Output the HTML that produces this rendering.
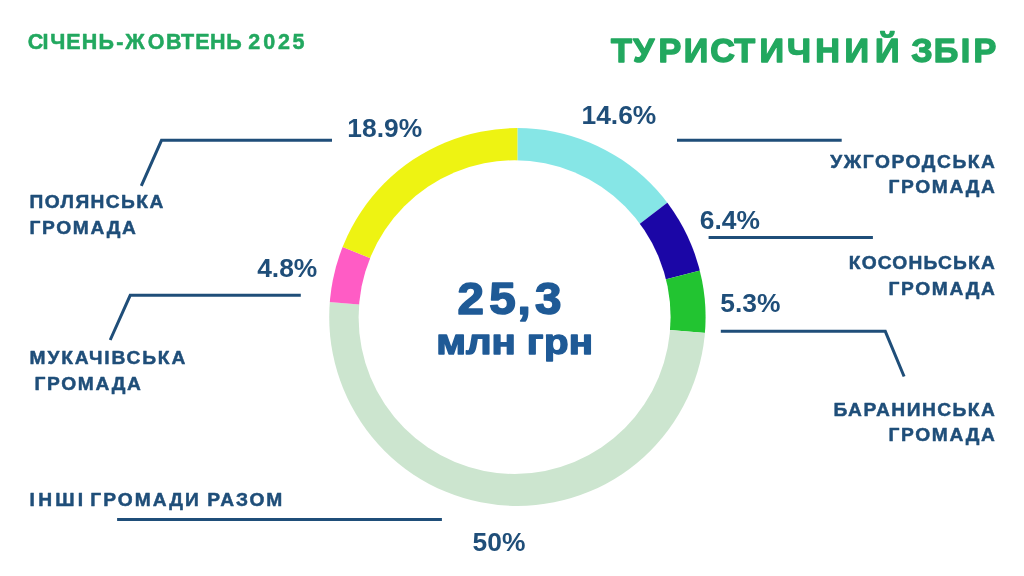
<!DOCTYPE html>
<html lang="uk"><head><meta charset="utf-8"><title>Туристичний збір</title>
<style>
html,body{margin:0;padding:0;background:#fff;}
body{width:1024px;height:576px;overflow:hidden;}
svg{display:block;}
text{font-family:"Liberation Sans",sans-serif;font-weight:700;}
</style></head><body>
<svg width="1024" height="576" viewBox="0 0 1024 576">
<rect width="1024" height="576" fill="#ffffff"/>
<defs><clipPath id="ring"><ellipse cx="517.4" cy="317.0" rx="188.2" ry="189.0"/></clipPath></defs>
<g clip-path="url(#ring)" shape-rendering="geometricPrecision">
<polygon points="517.40,317.50 517.40,57.50 557.00,60.53 595.67,69.56 632.52,84.37 666.68,104.62 697.36,129.84 723.84,159.44" fill="#86e6e6"/>
<polygon points="517.40,317.50 723.84,159.44 743.11,188.44 758.33,219.77 769.23,252.84" fill="#1b06a6"/>
<polygon points="517.40,317.50 769.23,252.84 776.47,295.47 776.53,338.71" fill="#22c431"/>
<polygon points="517.40,317.50 776.53,338.71 769.51,381.08 755.60,421.70 735.20,459.49 708.86,493.40 677.30,522.52 641.37,546.04 602.07,563.33 560.45,573.91 517.66,577.50 474.86,574.00 433.22,563.50 393.88,546.29 357.91,522.83 326.29,493.78 299.88,459.92 279.40,422.18 265.42,381.58 258.31,339.23 258.27,296.29" fill="#cce5cf"/>
<polygon points="517.40,317.50 258.27,296.29 264.39,257.60 276.26,220.27" fill="#ff5cc5"/>
<polygon points="517.40,317.50 276.26,220.27 296.14,180.95 322.37,145.56 354.20,115.10 390.71,90.45 430.87,72.32 473.50,61.23 517.40,57.50" fill="#eef312"/>
<ellipse cx="514.6" cy="317.15" rx="156.0" ry="156.85" fill="#ffffff"/>
</g>
<g>
<polyline points="141.3,185.9 161.5,140.3 332,140.3" fill="none" stroke="#1f4e79" stroke-width="3" stroke-linejoin="miter"/>
<polyline points="677,140.3 841.7,140.3" fill="none" stroke="#1f4e79" stroke-width="3" stroke-linejoin="miter"/>
<polyline points="708.6,237.5 872.9,237.5" fill="none" stroke="#1f4e79" stroke-width="3" stroke-linejoin="miter"/>
<polyline points="720.8,331.3 885.3,331.3 904.1,376.5" fill="none" stroke="#1f4e79" stroke-width="3" stroke-linejoin="miter"/>
<polyline points="300.8,295.3 130.2,295.3 110.2,340.0" fill="none" stroke="#1f4e79" stroke-width="3" stroke-linejoin="miter"/>
<polyline points="117.1,519.6 441.9,519.6" fill="none" stroke="#1f4e79" stroke-width="3" stroke-linejoin="miter"/>
</g>
<g>
<text transform="translate(0,137.20)" font-size="26.4" fill="#1f4e79"><tspan x="347.32" style="letter-spacing:0.000px">18.9%</tspan></text>
<text transform="translate(0,124.10)" font-size="26.4" fill="#1f4e79"><tspan x="581.48" style="letter-spacing:0.000px">14.6%</tspan></text>
<text transform="translate(0,228.50)" font-size="26.4" fill="#1f4e79"><tspan x="699.81" style="letter-spacing:0.000px">6.4%</tspan></text>
<text transform="translate(0,312.20)" font-size="26.4" fill="#1f4e79"><tspan x="720.24" style="letter-spacing:0.000px">5.3%</tspan></text>
<text transform="translate(0,277.30)" font-size="26.4" fill="#1f4e79"><tspan x="257.20" style="letter-spacing:0.000px">4.8%</tspan></text>
<text transform="translate(0,550.60)" font-size="26.4" fill="#1f4e79"><tspan x="472.58" style="letter-spacing:0.000px">50%</tspan></text>
<text transform="translate(0,208.15)" font-size="19.2" fill="#1f4e79" stroke="#1f4e79" stroke-width="0.5" stroke-linejoin="round"><tspan x="29.59" style="letter-spacing:1.387px">ПОЛЯНСЬКА</tspan></text>
<text transform="translate(0,233.50)" font-size="19.2" fill="#1f4e79" stroke="#1f4e79" stroke-width="0.5" stroke-linejoin="round"><tspan x="29.59" style="letter-spacing:1.645px">ГРОМАДА</tspan></text>
<text transform="translate(0,364.25)" font-size="19.2" fill="#1f4e79" stroke="#1f4e79" stroke-width="0.5" stroke-linejoin="round"><tspan x="29.59" style="letter-spacing:1.851px">МУКАЧІВСЬКА</tspan></text>
<text transform="translate(0,389.75)" font-size="19.2" fill="#1f4e79" stroke="#1f4e79" stroke-width="0.5" stroke-linejoin="round"><tspan x="34.59" style="letter-spacing:1.645px">ГРОМАДА</tspan></text>
<text transform="translate(0,506.35)" font-size="19.2" fill="#1f4e79" stroke="#1f4e79" stroke-width="0.5" stroke-linejoin="round"><tspan x="29.59" style="letter-spacing:3.263px">ІНШІ</tspan> <tspan x="90.30" style="letter-spacing:2.006px">ГРОМАДИ</tspan> <tspan x="207.17" style="letter-spacing:1.882px">РАЗОМ</tspan></text>
<text transform="translate(0,167.65)" font-size="19.2" fill="#1f4e79" stroke="#1f4e79" stroke-width="0.5" stroke-linejoin="round"><tspan x="830.26" style="letter-spacing:1.577px">УЖГОРОДСЬКА</tspan></text>
<text transform="translate(0,193.30)" font-size="19.2" fill="#1f4e79" stroke="#1f4e79" stroke-width="0.5" stroke-linejoin="round"><tspan x="888.46" style="letter-spacing:1.662px">ГРОМАДА</tspan></text>
<text transform="translate(0,269.25)" font-size="19.2" fill="#1f4e79" stroke="#1f4e79" stroke-width="0.5" stroke-linejoin="round"><tspan x="848.73" style="letter-spacing:1.200px">КОСОНЬСЬКА</tspan></text>
<text transform="translate(0,294.55)" font-size="19.2" fill="#1f4e79" stroke="#1f4e79" stroke-width="0.5" stroke-linejoin="round"><tspan x="888.46" style="letter-spacing:1.662px">ГРОМАДА</tspan></text>
<text transform="translate(0,415.50)" font-size="19.2" fill="#1f4e79" stroke="#1f4e79" stroke-width="0.5" stroke-linejoin="round"><tspan x="833.59" style="letter-spacing:1.466px">БАРАНИНСЬКА</tspan></text>
<text transform="translate(0,440.75)" font-size="19.2" fill="#1f4e79" stroke="#1f4e79" stroke-width="0.5" stroke-linejoin="round"><tspan x="888.46" style="letter-spacing:1.662px">ГРОМАДА</tspan></text>
<text transform="translate(0,49.00)" x="27.82 42.60 50.23 66.22 81.71 98.41 116.21 125.35 147.68 165.90 180.94 195.37 209.95 226.27 239.17 248.22 263.37 277.99 292.46" font-size="21.5" fill="#22a85f" stroke="#22a85f" stroke-width="0.5" stroke-linejoin="round">СІЧЕНЬ-ЖОВТЕНЬ 2025</text>
<text transform="translate(0,61.80) scale(1.02,1)" x="599.08 620.53 645.56 670.31 696.31 719.88 744.50 771.65 799.24 828.06 857.96 877.66 893.37 915.40 942.04 954.38" font-size="33.5" fill="#22a85f" stroke="#22a85f" stroke-width="1.4" stroke-linejoin="round">ТУРИСТИЧНИЙ ЗБІР</text>
<text transform="translate(0,314.30) scale(1.08,1)" x="423.55 453.04 479.12 495.39" font-size="44.0" fill="#1f5a96" stroke="#1f5a96" stroke-width="1.6" stroke-linejoin="round">25,3</text>
<text transform="translate(0,353.60) scale(1.15,1)" font-size="35" fill="#1f5a96" stroke="#1f5a96" stroke-width="1.4" stroke-linejoin="round"><tspan x="379.40" style="letter-spacing:-0.015px">млн</tspan> <tspan x="458.12" style="letter-spacing:0.296px">грн</tspan></text>
</g>
</svg>
</body></html>
